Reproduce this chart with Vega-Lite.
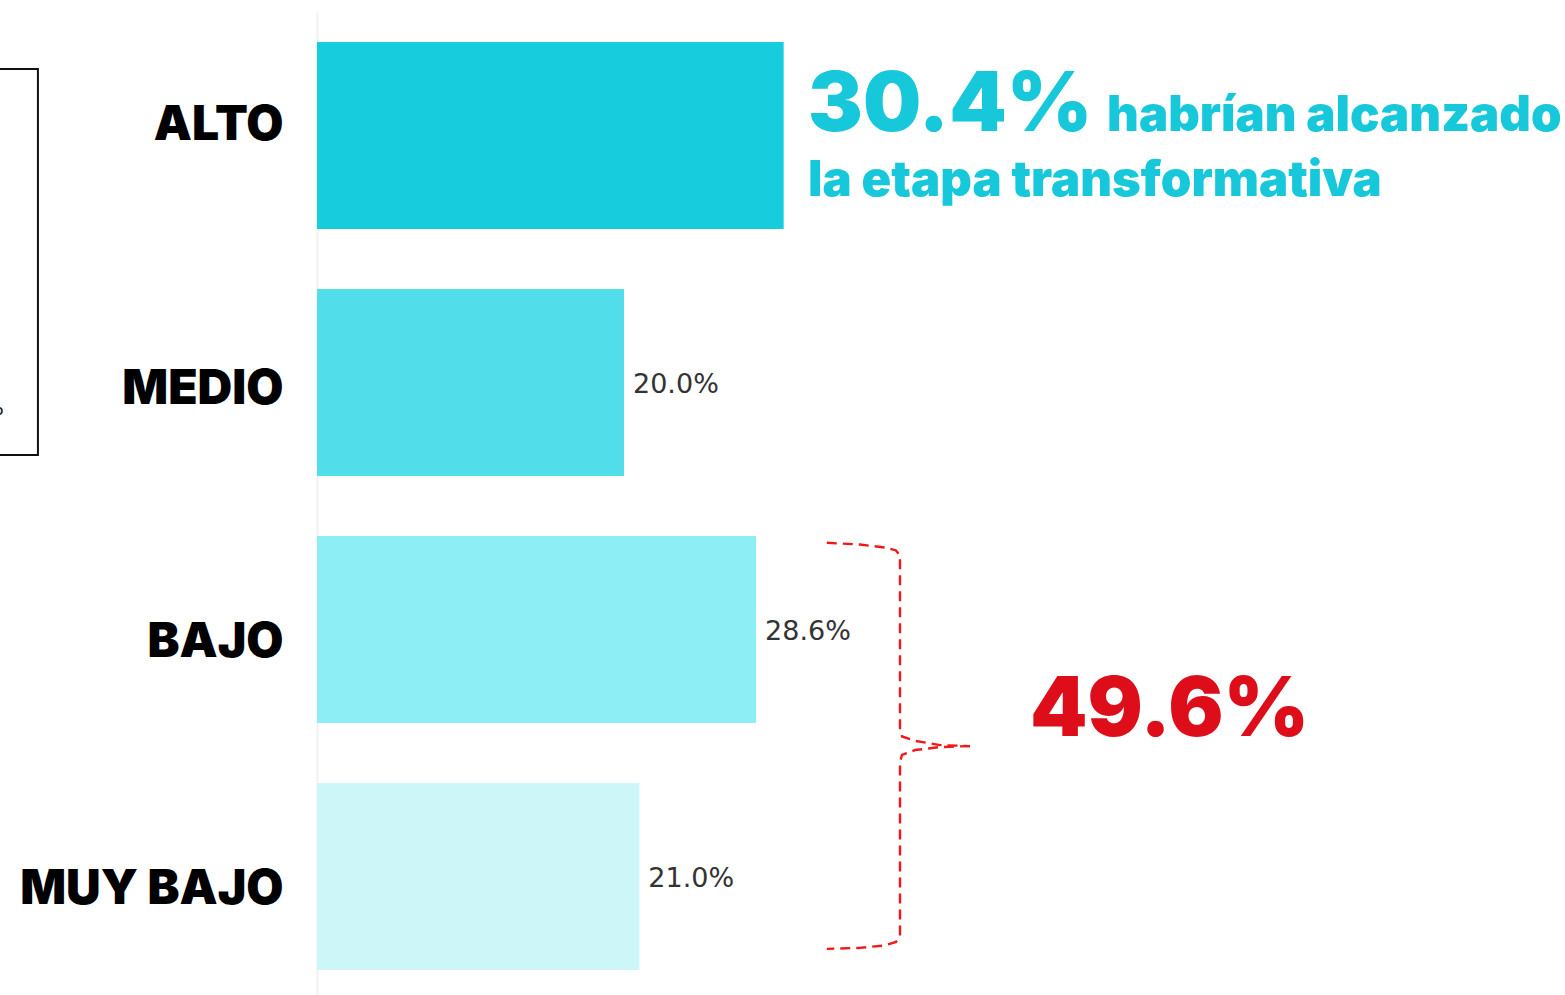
{
  "$schema": "https://vega.github.io/schema/vega-lite/v6.json",
  "width": 1248,
  "height": 988,
  "autosize": "none",
  "padding": {"left": 317, "top": 12, "right": 0, "bottom": 0},
  "background": "white",
  "config": {"view": {"stroke": null}},
  "datasets": {
    "bars": [
      {"cat": "ALTO", "pct": 30.4, "label": "30.4%"},
      {"cat": "MEDIO", "pct": 20.0, "label": "20.0%"},
      {"cat": "BAJO", "pct": 28.6, "label": "28.6%"},
      {"cat": "MUY BAJO", "pct": 21.0, "label": "21.0%"}
    ],
    "bracket": [
      {"part": "upper", "ord": 1, "x": 33.21, "v": 2.649},
      {"part": "upper", "ord": 2, "x": 35.37, "v": 2.656},
      {"part": "upper", "ord": 3, "x": 37.0, "v": 2.668},
      {"part": "upper", "ord": 4, "x": 37.72, "v": 2.68},
      {"part": "upper", "ord": 5, "x": 37.98, "v": 2.702},
      {"part": "upper", "ord": 6, "x": 37.98, "v": 3.407},
      {"part": "upper", "ord": 7, "x": 38.11, "v": 3.433},
      {"part": "upper", "ord": 8, "x": 38.96, "v": 3.451},
      {"part": "upper", "ord": 9, "x": 40.59, "v": 3.468},
      {"part": "upper", "ord": 10, "x": 42.54, "v": 3.472},
      {"part": "lower", "ord": 1, "x": 42.54, "v": 3.472},
      {"part": "lower", "ord": 2, "x": 40.59, "v": 3.476},
      {"part": "lower", "ord": 3, "x": 38.96, "v": 3.488},
      {"part": "lower", "ord": 4, "x": 38.11, "v": 3.508},
      {"part": "lower", "ord": 5, "x": 37.98, "v": 3.536},
      {"part": "lower", "ord": 6, "x": 37.98, "v": 4.241},
      {"part": "lower", "ord": 7, "x": 37.72, "v": 4.265},
      {"part": "lower", "ord": 8, "x": 37.0, "v": 4.279},
      {"part": "lower", "ord": 9, "x": 35.37, "v": 4.289},
      {"part": "lower", "ord": 10, "x": 33.21, "v": 4.293}
    ]
  },
  "resolve": {"scale": {"y": "independent"}, "axis": {"y": "independent"}},
  "layer": [
    {
      "data": {"name": "bars"},
      "layer": [
        {
          "mark": {"type": "bar"},
          "encoding": {
            "y": {
              "field": "cat", "type": "nominal", "sort": null,
              "scale": {"paddingInner": 0.243, "paddingOuter": 0.1215},
              "axis": {
                "title": null, "ticks": false, "domain": true, "domainColor": "#f1f1f1", "domainWidth": 2,
                "labelFont": "Inter", "labelFontWeight": 900, "labelFontSize": 48, "labelColor": "#000000",
                "labelPadding": 34, "labelLimit": 0,
                "labelOffset": {
                  "condition": [
                    {"test": "datum.value === 'ALTO'", "value": -10},
                    {"test": "datum.value === 'MEDIO'", "value": 7}
                  ],
                  "value": 13
                }
              }
            },
            "x": {"field": "pct", "type": "quantitative", "scale": {"domain": [0, 81.3], "nice": false}, "axis": null},
            "color": {
              "field": "cat", "type": "nominal", "legend": null,
              "scale": {"domain": ["ALTO", "MEDIO", "BAJO", "MUY BAJO"], "range": ["#17CCDC", "#52DDEA", "#8EEEF5", "#CCF6F8"]}
            }
          }
        },
        {
          "transform": [{"filter": "datum.cat !== 'ALTO'"}],
          "mark": {"type": "text", "align": "left", "baseline": "middle", "dx": 9, "dy": 2, "font": "DejaVu Sans", "fontSize": 27, "color": "#333333"},
          "encoding": {
            "y": {"field": "cat", "type": "nominal", "sort": null},
            "x": {"field": "pct", "type": "quantitative", "scale": {"domain": [0, 81.3], "nice": false}},
            "text": {"field": "label"}
          }
        }
      ]
    },
    {
      "layer": [
        {
          "data": {"name": "bracket"},
          "mark": {"type": "line", "stroke": "#F01818", "strokeWidth": 2.4, "strokeDash": [10, 6]},
          "encoding": {
            "x": {"field": "x", "type": "quantitative", "scale": {"domain": [0, 81.3], "nice": false}},
            "y": {"field": "v", "type": "quantitative", "scale": {"domain": [0.5, 4.5], "reverse": true, "nice": false, "zero": false}, "axis": null},
            "detail": {"field": "part"},
            "order": {"field": "ord"}
          }
        },
        {
          "data": {"values": [{"x": -25, "x2": -18.18, "v": 0.731, "v2": 2.294}]},
          "mark": {"type": "rect", "fill": null, "fillOpacity": 0, "stroke": "#111111", "strokeWidth": 2},
          "encoding": {
            "x": {"field": "x", "type": "quantitative", "scale": {"domain": [0, 81.3], "nice": false}},
            "x2": {"field": "x2"},
            "y": {"field": "v", "type": "quantitative", "scale": {"domain": [0.5, 4.5], "reverse": true, "nice": false, "zero": false}, "axis": null},
            "y2": {"field": "v2"}
          }
        },
        {
          "data": {"values": [{"t": "%", "x": -20.39, "v": 2.103}]},
          "mark": {"type": "text", "align": "right", "baseline": "middle", "font": "DejaVu Sans", "fontSize": 22, "color": "#222222"},
          "encoding": {
            "x": {"field": "x", "type": "quantitative", "scale": {"domain": [0, 81.3], "nice": false}},
            "y": {"field": "v", "type": "quantitative", "scale": {"domain": [0.5, 4.5], "reverse": true, "nice": false, "zero": false}, "axis": null},
            "text": {"field": "t"}
          }
        },
        {
          "data": {"values": [{"t": "30.4%", "x": 31.99, "v": 0.982}]},
          "mark": {"type": "text", "align": "left", "baseline": "alphabetic", "font": "Inter", "fontWeight": 900, "fontSize": 82, "color": "#17C7DA"},
          "encoding": {
            "x": {"field": "x", "type": "quantitative", "scale": {"domain": [0, 81.3], "nice": false}},
            "y": {"field": "v", "type": "quantitative", "scale": {"domain": [0.5, 4.5], "reverse": true, "nice": false, "zero": false}, "axis": null},
            "text": {"field": "t"}
          }
        },
        {
          "data": {"values": [{"t": "habrían alcanzado", "x": 51.47, "v": 0.982}, {"t": "la etapa transformativa", "x": 31.99, "v": 1.245}]},
          "mark": {"type": "text", "align": "left", "baseline": "alphabetic", "font": "Inter", "fontWeight": 900, "fontSize": 49, "color": "#17C7DA"},
          "encoding": {
            "x": {"field": "x", "type": "quantitative", "scale": {"domain": [0, 81.3], "nice": false}},
            "y": {"field": "v", "type": "quantitative", "scale": {"domain": [0.5, 4.5], "reverse": true, "nice": false, "zero": false}, "axis": null},
            "text": {"field": "t"}
          }
        },
        {
          "data": {"values": [{"t": "49.6%", "x": 46.45, "v": 3.431}]},
          "mark": {"type": "text", "align": "left", "baseline": "alphabetic", "font": "Inter", "fontWeight": 900, "fontSize": 82, "color": "#DD0E1A"},
          "encoding": {
            "x": {"field": "x", "type": "quantitative", "scale": {"domain": [0, 81.3], "nice": false}},
            "y": {"field": "v", "type": "quantitative", "scale": {"domain": [0.5, 4.5], "reverse": true, "nice": false, "zero": false}, "axis": null},
            "text": {"field": "t"}
          }
        }
      ]
    }
  ]
}
